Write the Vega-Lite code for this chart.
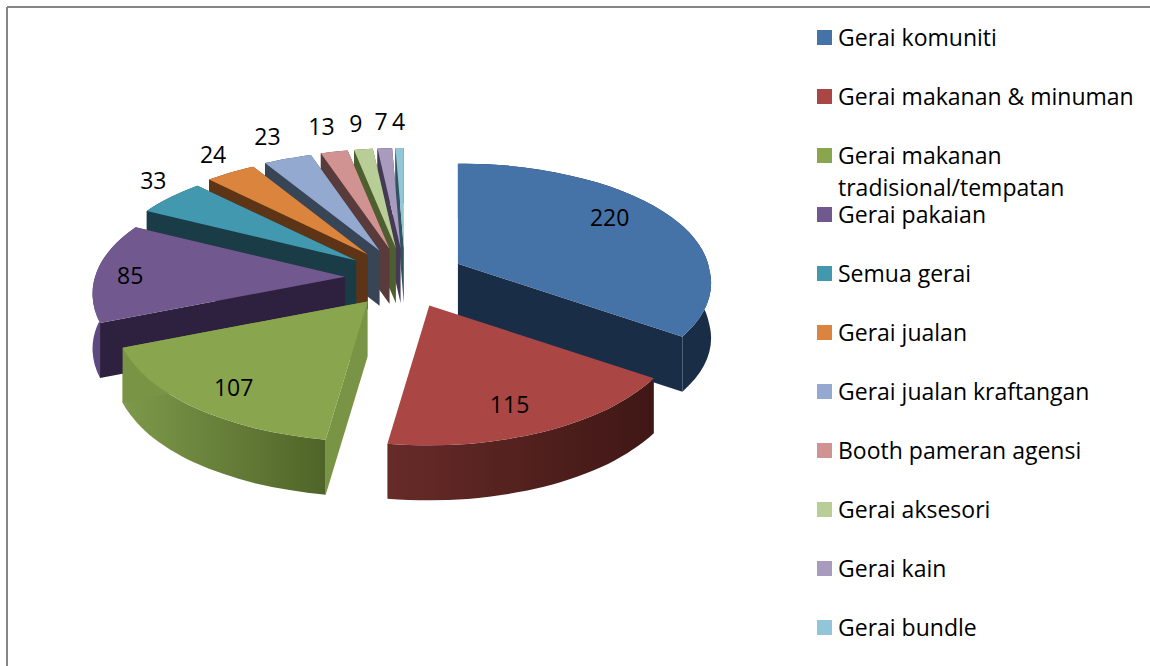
{"$schema":"https://vega.github.io/schema/vega-lite/v6.json","width":1150,"height":666,"padding":0,"autosize":"none","background":"white","config":{"view":{"stroke":null},"font":"Open Sans"},
"data":{"values":[{"name":"Gerai komuniti","value":220},{"name":"Gerai makanan & minuman","value":115},{"name":"Gerai makanan tradisional/tempatan","value":107},{"name":"Gerai pakaian","value":85},{"name":"Semua gerai","value":33},{"name":"Gerai jualan","value":24},{"name":"Gerai jualan kraftangan","value":23},{"name":"Booth pameran agensi","value":13},{"name":"Gerai aksesori","value":9},{"name":"Gerai kain","value":7},{"name":"Gerai bundle","value":4}]},
"transform":[
{"window":[{"op":"sum","field":"value","as":"cum"}]},
{"joinaggregate":[{"op":"sum","field":"value","as":"total"}]},
{"calculate":"2*PI*(datum.cum-datum.value)/datum.total","as":"th0"},
{"calculate":"2*PI*datum.cum/datum.total","as":"th1"},
{"calculate":"(datum.th0+datum.th1)/2","as":"mid"},
{"calculate":"60*sin(datum.mid)","as":"cx"},
{"calculate":"-30*cos(datum.mid)","as":"cy"},
{"calculate":"-cos(datum.mid)","as":"drawOrder"},
{"calculate":"round(250-36*cos(datum.mid))+','+round(120-20*cos(datum.mid))+',0,0,'","as":"R"},
{"calculate":"datum.th0","as":"t0"},
{"calculate":"datum.th0+0.25*(datum.th1-datum.th0)","as":"t1"},
{"calculate":"datum.th0+0.5*(datum.th1-datum.th0)","as":"t2"},
{"calculate":"datum.th0+0.75*(datum.th1-datum.th0)","as":"t3"},
{"calculate":"datum.th1","as":"t4"},
{"calculate":"round((250-36*cos(datum.t0))*sin(datum.t0)*100)/100","as":"x0"},
{"calculate":"round((250-36*cos(datum.t1))*sin(datum.t1)*100)/100","as":"x1"},
{"calculate":"round((250-36*cos(datum.t2))*sin(datum.t2)*100)/100","as":"x2"},
{"calculate":"round((250-36*cos(datum.t3))*sin(datum.t3)*100)/100","as":"x3"},
{"calculate":"round((250-36*cos(datum.t4))*sin(datum.t4)*100)/100","as":"x4"},
{"calculate":"round(-(120-20*cos(datum.t0))*cos(datum.t0)*100)/100","as":"y0"},
{"calculate":"round(-(120-20*cos(datum.t1))*cos(datum.t1)*100)/100","as":"y1"},
{"calculate":"round(-(120-20*cos(datum.t2))*cos(datum.t2)*100)/100","as":"y2"},
{"calculate":"round(-(120-20*cos(datum.t3))*cos(datum.t3)*100)/100","as":"y3"},
{"calculate":"round(-(120-20*cos(datum.t4))*cos(datum.t4)*100)/100","as":"y4"},
{"calculate":"datum.x0+','+datum.y0","as":"p0"},
{"calculate":"datum.x1+','+datum.y1","as":"p1"},
{"calculate":"datum.x2+','+datum.y2","as":"p2"},
{"calculate":"datum.x3+','+datum.y3","as":"p3"},
{"calculate":"datum.x4+','+datum.y4","as":"p4"},
{"calculate":"datum.x0+','+round((datum.y0+55)*100)/100","as":"q0"},
{"calculate":"datum.x1+','+round((datum.y1+55)*100)/100","as":"q1"},
{"calculate":"datum.x2+','+round((datum.y2+55)*100)/100","as":"q2"},
{"calculate":"datum.x3+','+round((datum.y3+55)*100)/100","as":"q3"},
{"calculate":"datum.x4+','+round((datum.y4+55)*100)/100","as":"q4"},
{"calculate":"'M0,0L'+datum.p0+'A'+datum.R+'1,'+datum.p1+'A'+datum.R+'1,'+datum.p2+'A'+datum.R+'1,'+datum.p3+'A'+datum.R+'1,'+datum.p4+'Z'","as":"topPath"},
{"calculate":"'M'+datum.p0+'A'+datum.R+'1,'+datum.p1+'A'+datum.R+'1,'+datum.p2+'A'+datum.R+'1,'+datum.p3+'A'+datum.R+'1,'+datum.p4+'L'+datum.q4+'A'+datum.R+'0,'+datum.q3+'A'+datum.R+'0,'+datum.q2+'A'+datum.R+'0,'+datum.q1+'A'+datum.R+'0,'+datum.q0+'Z'","as":"wallPath"},
{"calculate":"'M0,0L'+datum.p0+'L'+datum.q0+'L0,55Z'+'M0,0L'+datum.p4+'L'+datum.q4+'L0,55Z'","as":"cutPath"},
{"calculate":"datum.value>=85?(sin(datum.mid)>0?(cos(datum.mid)>0?172:198):215):(datum.value>=24?250:265)","as":"la"},
{"calculate":"datum.value>=85?105:(datum.value==33?135:125)","as":"lb"},
{"calculate":"datum.cx+datum.la*sin(datum.mid)","as":"lx"},
{"calculate":"datum.cy-datum.lb*cos(datum.mid)+(datum.value>=85?5:0)","as":"ly"}
],
"encoding":{
"x":{"field":"cx","type":"quantitative","scale":{"domain":[-405,745]},"axis":null},
"y":{"field":"cy","type":"quantitative","scale":{"domain":[-278,388],"reverse":true},"axis":null}},
"resolve":{"scale":{"fill":"independent"}},
"layer":[
{"mark":{"type":"rule","color":"#868686","strokeWidth":1.5},"encoding":{"x":{"datum":-398,"scale":{"domain":[-405,745]},"axis":null},"x2":{"datum":745},"y":{"datum":-271,"scale":{"domain":[-278,388],"reverse":true},"axis":null}}},
{"mark":{"type":"rule","color":"#868686","strokeWidth":1.5},"encoding":{"x":{"datum":-398,"scale":{"domain":[-405,745]},"axis":null},"y":{"datum":-271,"scale":{"domain":[-278,388],"reverse":true},"axis":null},"y2":{"datum":388}}},
{"transform":[{"filter":"datum.value!=115&&datum.value!=107"}],
"mark":{"type":"point","filled":true,"opacity":1,"strokeWidth":0,"size":4},
"encoding":{"shape":{"field":"wallPath","type":"nominal","scale":null,"legend":null},"order":{"field":"drawOrder"},
"fill":{"field":"name","type":"nominal","legend":null,"scale":{"domain":["Gerai komuniti","Gerai pakaian","Semua gerai","Gerai jualan","Gerai jualan kraftangan","Booth pameran agensi","Gerai aksesori","Gerai kain","Gerai bundle"],"range":["#1a2d47","#5e4a80","#1a3c47","#5d3415","#374557","#583b3a","#4d5f2e","#453a55","#2f5460"]}}}},
{"transform":[{"filter":"datum.value==115"}],
"mark":{"type":"point","filled":true,"opacity":1,"strokeWidth":0,"size":4,"fill":{"gradient":"linear","x1":0,"x2":1,"y1":0,"y2":0,"stops":[{"offset":0,"color":"#672b28"},{"offset":1,"color":"#3f1715"}]}},
"encoding":{"shape":{"field":"wallPath","type":"nominal","scale":null,"legend":null}}},
{"transform":[{"filter":"datum.value==107"}],
"mark":{"type":"point","filled":true,"opacity":1,"strokeWidth":0,"size":4,"fill":{"gradient":"linear","x1":0,"x2":1,"y1":0,"y2":0,"stops":[{"offset":0,"color":"#7e994a"},{"offset":1,"color":"#4f6428"}]}},
"encoding":{"shape":{"field":"wallPath","type":"nominal","scale":null,"legend":null}}},
{"transform":[{"filter":"datum.value!=115"}],
"mark":{"type":"point","filled":true,"opacity":1,"strokeWidth":0,"size":4},
"encoding":{"shape":{"field":"cutPath","type":"nominal","scale":null,"legend":null},"order":{"field":"drawOrder"},
"fill":{"field":"name","type":"nominal","legend":null,"scale":{"domain":["Gerai komuniti","Gerai makanan tradisional/tempatan","Gerai pakaian","Semua gerai","Gerai jualan","Gerai jualan kraftangan","Booth pameran agensi","Gerai aksesori","Gerai kain","Gerai bundle"],"range":["#1a2d47","#7a9446","#2e2140","#1a3c47","#5d3415","#374557","#583b3a","#4d5f2e","#453a55","#2f5460"]}}}},
{"mark":{"type":"point","filled":true,"opacity":1,"strokeWidth":0,"size":4},
"encoding":{"shape":{"field":"topPath","type":"nominal","scale":null,"legend":null},"order":{"field":"drawOrder"},
"color":{"field":"name","type":"nominal","scale":{"domain":["Gerai komuniti","Gerai makanan & minuman","Gerai makanan tradisional/tempatan","Gerai pakaian","Semua gerai","Gerai jualan","Gerai jualan kraftangan","Booth pameran agensi","Gerai aksesori","Gerai kain","Gerai bundle"],"range":["#4572a7","#aa4643","#89a54e","#71588f","#4198af","#db843d","#93a9cf","#d19392","#b9cd96","#a99bbd","#92c5d8"]},
"legend":{"title":null,"orient":"none","legendX":813,"legendY":8,"padding":0,"symbolType":"square","symbolSize":225,"symbolStrokeWidth":0,"symbolOpacity":1,"labelFontSize":23,"labelFont":"Open Sans","labelColor":"#000000","labelLimit":400,"labelOffset":2,"clipHeight":59,"rowPadding":0,"labelBaseline":"alphabetic","labelExpr":"datum.label=='Gerai makanan tradisional/tempatan'?'Gerai makanan':datum.label","encode":{"labels":{"update":{"dy":{"value":8}}}}}}}},
{"mark":{"type":"text","font":"Open Sans","fontSize":23,"color":"#000000","align":"center","baseline":"middle"},
"encoding":{"x":{"field":"lx","type":"quantitative","scale":{"domain":[-405,745]},"axis":null},"y":{"field":"ly","type":"quantitative","scale":{"domain":[-278,388],"reverse":true},"axis":null},"text":{"field":"value","type":"quantitative"}}},
{"transform":[{"filter":"datum.value==107"}],
"mark":{"type":"text","font":"Open Sans","fontSize":23,"color":"#000000","align":"left","baseline":"middle"},
"encoding":{"x":{"datum":433,"scale":{"domain":[-405,745]},"axis":null},"y":{"datum":-89,"scale":{"domain":[-278,388],"reverse":true},"axis":null},"text":{"value":"tradisional/tempatan"}}}
]}
